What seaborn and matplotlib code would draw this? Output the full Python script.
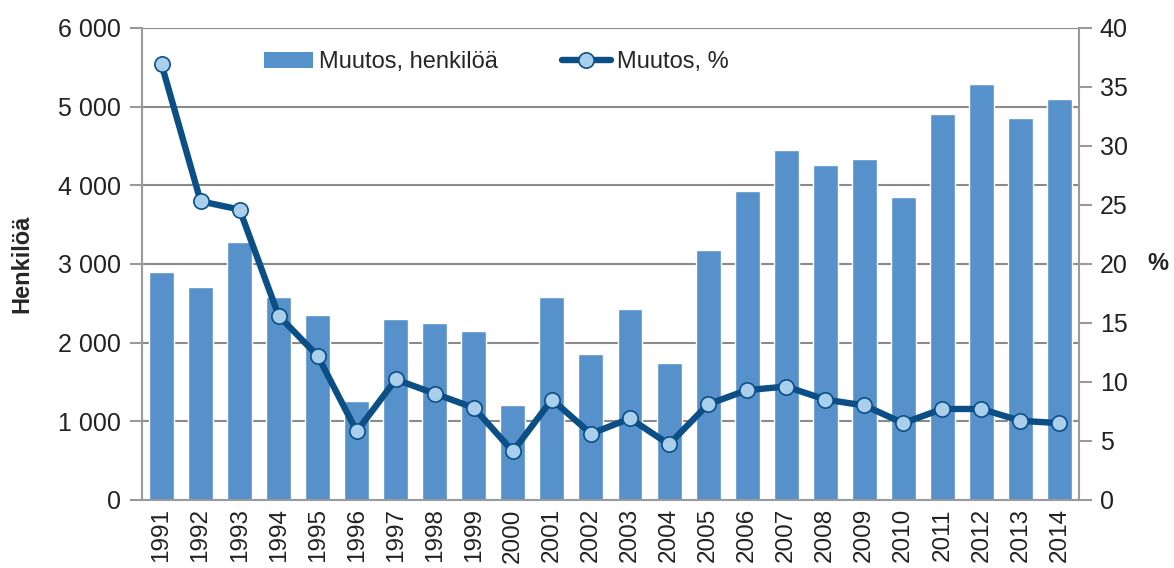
import matplotlib
matplotlib.use("Agg")
import matplotlib.pyplot as plt
import pandas as pd
import numpy as np
import seaborn as sns
from matplotlib.patches import Patch
from matplotlib.lines import Line2D

years = [str(y) for y in range(1991, 2015)]
muutos_hlo = [2890, 2700, 3280, 2580, 2350, 1260, 2300, 2250, 2150, 1210,
              2580, 1860, 2430, 1740, 3180, 3920, 4450, 4260, 4330, 3850,
              4910, 5290, 4860, 5090]
muutos_pct = [36.9, 25.3, 24.6, 15.6, 12.2, 5.8, 10.2, 9.0, 7.8, 4.1,
              8.5, 5.6, 6.9, 4.7, 8.1, 9.3, 9.6, 8.5, 8.0, 6.5,
              7.7, 7.7, 6.7, 6.5]

df = pd.DataFrame({'vuosi': years, 'hlo': muutos_hlo, 'pct': muutos_pct})

sns.set_style("white")
plt.rcParams['font.family'] = ['Liberation Sans', 'DejaVu Sans']
plt.rcParams['font.size'] = 17

bar_col = '#5691cc'
line_col = '#0b4f86'
mark_col = '#a9cfec'
grid_col = '#8a8a8a'
axis_col = '#9a9a9a'
lw = 4.6

fig = plt.figure(figsize=(11.74, 5.68), dpi=100)
ax = fig.add_axes([0.121, 0.12, 0.798, 0.831])

sns.barplot(data=df, x='vuosi', y='hlo', color=bar_col, saturation=1,
            width=0.64, ax=ax, zorder=2)
ax.set_ylim(0, 6000)
ax.set_xlim(-0.5, len(years) - 0.5)
ax.set_yticks(range(0, 6001, 1000))
ax.set_yticklabels(['0' if v == 0 else f'{v // 1000} 000' for v in range(0, 6001, 1000)])
ax.yaxis.grid(True, color=grid_col, linewidth=1.5, zorder=0)
ax.set_axisbelow(True)
ax.tick_params(axis='x', labelrotation=90, length=0, pad=6, labelsize=17.5,
               labelcolor='#222222')
ax.tick_params(axis='y', length=9, width=1.5, color=axis_col, left=True,
               pad=6, labelsize=18, labelcolor='#222222')
ax.set_xlabel('')
ax.set_ylabel('Henkilöä', fontweight='bold', labelpad=18)
for s in ['left', 'bottom']:
    ax.spines[s].set_color(axis_col)
    ax.spines[s].set_linewidth(1.5)
ax.spines['top'].set_visible(False)
ax.spines['right'].set_visible(False)

ax2 = ax.twinx()
sns.lineplot(x=np.arange(len(years)), y=muutos_pct, ax=ax2, color=line_col,
             linewidth=lw, marker='o', markersize=11,
             markerfacecolor=mark_col, markeredgecolor=line_col,
             markeredgewidth=1.2, zorder=3)
ax2.set_ylim(0, 40)
ax2.set_yticks(range(0, 41, 5))
ax2.tick_params(axis='y', length=9, width=1.5, color=axis_col, right=True,
                pad=6, labelsize=18, labelcolor='#222222')
ax2.set_ylabel('%', fontweight='bold', rotation=0, labelpad=22, va='center')
for s in ['left', 'top', 'bottom']:
    ax2.spines[s].set_visible(False)
ax2.spines['right'].set_color(axis_col)
ax2.spines['right'].set_linewidth(1.5)

handles = [Patch(facecolor=bar_col, edgecolor='none'),
           Line2D([0], [0], color=line_col, linewidth=lw, marker='o',
                  markersize=11, markerfacecolor=mark_col,
                  markeredgecolor=line_col, markeredgewidth=1.2)]
ax2.legend(handles, ['Muutos, henkilöä', 'Muutos, %'], ncol=2, frameon=False,
           loc='upper left', bbox_to_anchor=(0.107, 0.995), handlelength=2.1,
           handletextpad=0.25, columnspacing=2.7, fontsize=17)

fig.savefig('out.png', dpi=100)
